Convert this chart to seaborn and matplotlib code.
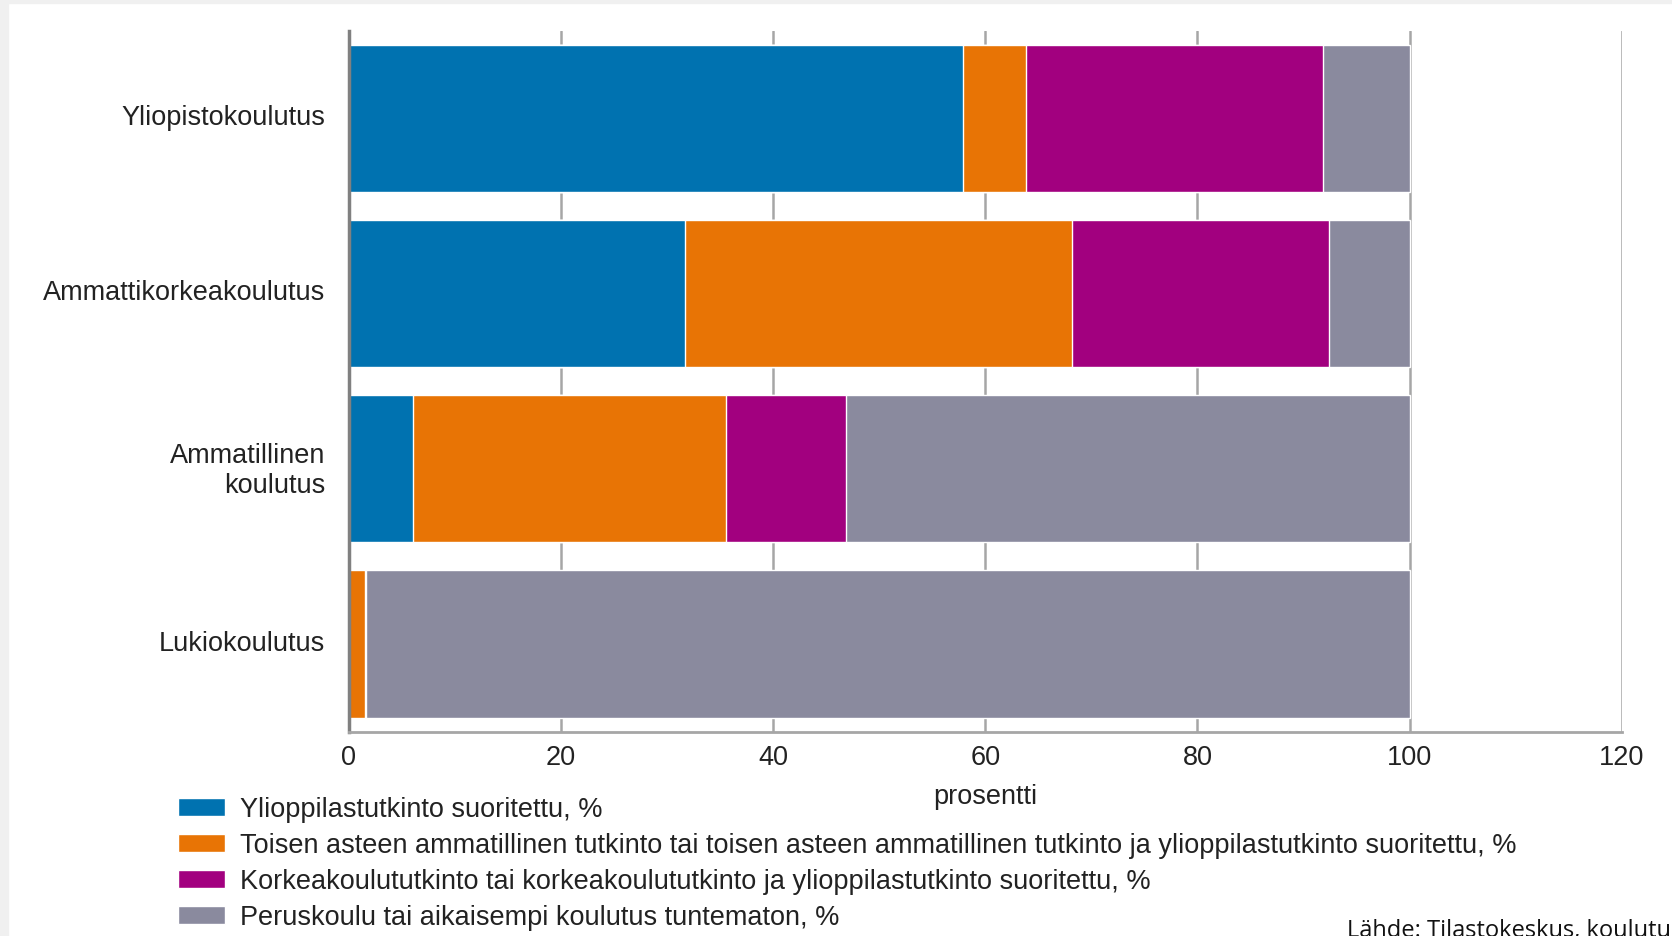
import numpy as np
import pandas as pd
import matplotlib.pyplot as plt
import matplotlib.transforms as mtransforms
import seaborn as sns
from matplotlib.patches import Rectangle

# data (percent of each education type)
categories = ["Yliopistokoulutus", "Ammattikorkeakoulutus", "Ammatillinen\nkoulutus", "Lukiokoulutus"]
ylioppilas = [57.9, 31.7, 6.1, 0.0]
toinen_aste = [5.9, 36.5, 29.5, 1.5]
korkeakoulu = [28.0, 24.2, 11.3, 0.15]
peruskoulu = [8.2, 7.6, 53.1, 98.35]

series_names = [
    "Ylioppilastutkinto suoritettu, %",
    "Toisen asteen ammatillinen tutkinto tai toisen asteen ammatillinen tutkinto ja ylioppilastutkinto suoritettu, %",
    "Korkeakoulututkinto tai korkeakoulututkinto ja ylioppilastutkinto suoritettu, %",
    "Peruskoulu tai aikaisempi koulutus tuntematon, %",
]
colors = ["#0072b0", "#e87405", "#a2007f", "#8a8a9e"]
xticks = [0, 20, 40, 60, 80, 100, 120]

sns.set_style("white")
plt.rcParams["font.family"] = ["Liberation Sans", "DejaVu Sans"]

df = pd.DataFrame({"kategoria": categories})
values = np.array([ylioppilas, toinen_aste, korkeakoulu, peruskoulu])
cumulative = values.cumsum(axis=0)

fig = plt.figure(figsize=(16.72, 9.37), dpi=100, facecolor="white")
ax = fig.add_axes([0.2086, 0.2181, 0.7614, 0.7479])

# stacked bars: draw cumulative totals from largest to smallest so they overlap
for i in reversed(range(len(series_names))):
    df["arvo"] = cumulative[i]
    sns.barplot(data=df, x="arvo", y="kategoria", orient="h", color=colors[i],
                width=0.84, saturation=1, label=series_names[i], ax=ax, zorder=2)

ax.set_xlim(0, 120)
ax.set_xticks(xticks)
ax.set_xticklabels([str(t) for t in xticks])
ax.set_ylabel("")
ax.set_xlabel("prosentti", fontsize=19.5, color="#222222", labelpad=9)
ax.tick_params(axis="both", length=0, labelsize=19.5, colors="#222222")
ax.tick_params(axis="y", pad=17)
ax.tick_params(axis="x", pad=9)

# category labels sit a few pixels above the bar centres in the original
shift = mtransforms.ScaledTranslation(0, 3 / 72, fig.dpi_scale_trans)
for lbl in ax.get_yticklabels():
    lbl.set_transform(lbl.get_transform() + shift)

ax.grid(axis="x", color="#a6a6a6", linewidth=1.8, zorder=0)
ax.set_axisbelow(True)
for side in ["top", "right"]:
    ax.spines[side].set_visible(False)
ax.spines["left"].set_color("#808080")
ax.spines["left"].set_linewidth(2.5)
ax.spines["bottom"].set_color("#a6a6a6")
ax.spines["bottom"].set_linewidth(2)

handles, labels = ax.get_legend_handles_labels()
order = [labels.index(name) for name in series_names]
ax.legend([handles[k] for k in order], series_names,
          loc="upper left", bbox_to_anchor=(0.1065, 0.149), bbox_transform=fig.transFigure,
          frameon=False, fontsize=19.5, handlelength=1.75, handleheight=0.65,
          handletextpad=0.55, labelspacing=0.37, borderaxespad=0, borderpad=0,
          labelcolor="#222222")

# source note (cut off at the image edge, as in the original)
fig.text(0.8055, 0.0, "Lähde: Tilastokeskus, koulutuksen jälkeinen sijoittuminen",
         fontsize=17, family=["Open Sans", "DejaVu Sans"], ha="left", va="baseline",
         color="#111111")

# thin light grey frame at the top and left of the screenshot
fig.add_artist(Rectangle((0, 0.9957), 1, 0.0043, transform=fig.transFigure,
                         color="#f0f0f0", zorder=0))
fig.add_artist(Rectangle((0, 0), 0.0048, 1, transform=fig.transFigure,
                         color="#f0f0f0", zorder=0))

fig.savefig("out.png", dpi=100, facecolor="white")
